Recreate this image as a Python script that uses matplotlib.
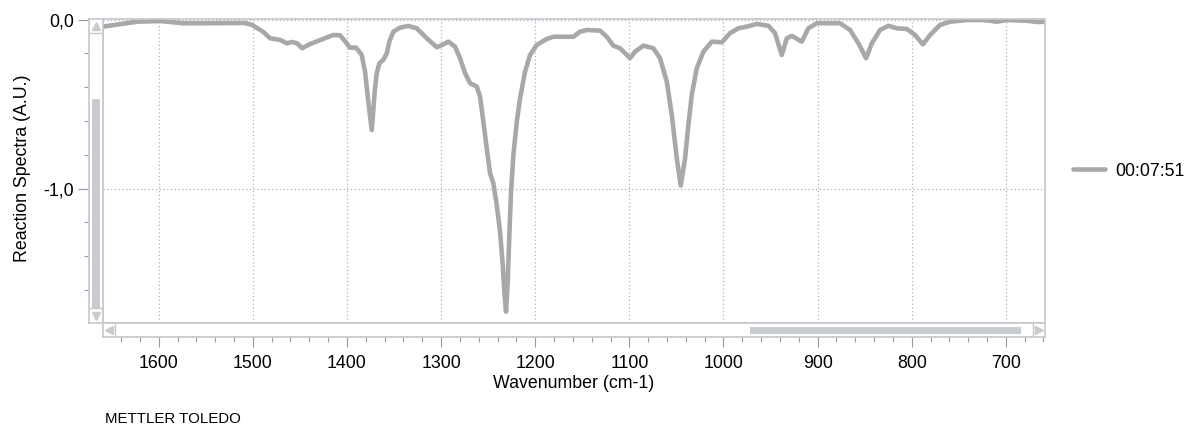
import matplotlib
matplotlib.use('Agg')
import matplotlib.pyplot as plt
from matplotlib.patches import Rectangle
from matplotlib.ticker import MultipleLocator, FixedLocator, FuncFormatter

plt.rcParams['font.family'] = ['Liberation Sans', 'DejaVu Sans']

# spectrum
wavenumber = [1659.2, 1623.0, 1598.6, 1574.2, 1508.3, 1500.9, 1489.2, 1481.7, 1471.1, 1463.7,
              1458.4, 1453.0, 1447.7, 1439.2, 1425.4, 1414.8, 1407.4, 1402.0, 1396.7, 1390.4,
              1384.3, 1380.8, 1377.3, 1373.7, 1370.2, 1368.4, 1365.6, 1361.4, 1357.7, 1355.0,
              1350.7, 1343.6, 1334.8, 1325.9, 1315.2, 1304.6, 1297.6, 1292.3, 1285.2, 1279.9,
              1274.5, 1269.2, 1262.1, 1258.6, 1255.1, 1251.5, 1248.0, 1244.5, 1240.9, 1237.4,
              1234.5, 1232.8, 1231.0, 1229.2, 1227.5, 1225.7, 1223.2, 1219.6, 1216.1, 1210.8,
              1205.5, 1198.4, 1187.7, 1180.7, 1159.5, 1152.4, 1145.2, 1131.1, 1124.0, 1116.9,
              1109.9, 1099.2, 1093.9, 1085.1, 1074.5, 1067.4, 1060.2, 1054.9, 1049.6, 1045.4,
              1040.8, 1037.3, 1033.7, 1028.4, 1021.3, 1012.4, 1001.8, 993.0, 984.2, 975.2,
              964.6, 952.3, 945.2, 938.1, 932.7, 927.4, 916.8, 909.8, 900.9, 876.1,
              865.5, 856.6, 848.5, 842.4, 833.6, 824.8, 815.8, 805.2, 796.4, 788.2,
              780.5, 769.9, 759.2, 741.5, 723.8, 709.6, 699.0, 677.8, 667.1, 658.4]
absorb = [-0.041, -0.012, -0.008, -0.021, -0.020, -0.031, -0.071, -0.110, -0.120, -0.140,
          -0.132, -0.140, -0.169, -0.144, -0.114, -0.091, -0.092, -0.128, -0.166, -0.165,
          -0.209, -0.308, -0.485, -0.653, -0.406, -0.317, -0.258, -0.238, -0.199, -0.130,
          -0.071, -0.047, -0.037, -0.051, -0.110, -0.163, -0.146, -0.130, -0.160, -0.228,
          -0.317, -0.376, -0.396, -0.456, -0.604, -0.761, -0.909, -0.968, -1.096, -1.254,
          -1.451, -1.609, -1.728, -1.550, -1.274, -1.018, -0.801, -0.604, -0.465, -0.308,
          -0.209, -0.150, -0.114, -0.101, -0.101, -0.071, -0.061, -0.065, -0.101, -0.154,
          -0.169, -0.228, -0.189, -0.154, -0.169, -0.228, -0.367, -0.564, -0.820, -0.982,
          -0.820, -0.623, -0.446, -0.288, -0.189, -0.130, -0.134, -0.080, -0.051, -0.041,
          -0.025, -0.036, -0.080, -0.209, -0.110, -0.096, -0.130, -0.051, -0.021, -0.021,
          -0.061, -0.140, -0.228, -0.140, -0.061, -0.036, -0.051, -0.055, -0.091, -0.146,
          -0.091, -0.031, -0.012, -0.002, -0.002, -0.012, -0.002, -0.006, -0.014, -0.012]
series_label = '00:07:51'
x_major = [1600, 1500, 1400, 1300, 1200, 1100, 1000, 900, 800, 700]
y_major = [0.0, -1.0]

W, H = 1187, 429
xlim = (1659.2, 658.4)
ylim = (-1.795, 0.004)
frame = '#c3c8cd'
thumb = '#c8ccd0'
grid_c = '#a9b1b8'
line_c = '#a8a8a8'
FS = 12.8


def rect(x0, y0, x1, y1):
    return [x0 / W, 1 - y1 / H, (x1 - x0) / W, (y1 - y0) / H]


fig = plt.figure(figsize=(W / 100, H / 100), dpi=100)

# data area
ax = fig.add_axes(rect(103, 19, 1045, 323))
ax.plot(wavenumber, absorb, color=line_c, lw=3.3, solid_joinstyle='round',
        solid_capstyle='round', label=series_label)
ax.set_xlim(*xlim)
ax.set_ylim(*ylim)
ax.xaxis.set_major_locator(FixedLocator(x_major))
ax.yaxis.set_major_locator(FixedLocator(y_major))
ax.tick_params(length=0, labelbottom=False, labelleft=False)
ax.grid(True, ls=(0, (1, 2)), color=grid_c, lw=0.9)
for s in ax.spines.values():
    s.set_color(frame)
    s.set_linewidth(1.2)

# horizontal scrollbar + x axis
axh = fig.add_axes(rect(103, 323, 1045, 337))
axh.set_xlim(*xlim)
axh.set_ylim(0, 1)
axh.xaxis.set_major_locator(FixedLocator(x_major))
axh.xaxis.set_minor_locator(MultipleLocator(20))
axh.set_yticks([])
axh.tick_params(axis='x', which='major', length=7, width=0.8, color='#9a9a9a',
                labelsize=FS, pad=6)
axh.tick_params(axis='x', which='minor', length=3.5, width=0.8, color='#9a9a9a')
for s in axh.spines.values():
    s.set_color(frame)
    s.set_linewidth(1.2)
axh.add_patch(Rectangle((0.687, 0.19), 0.288, 0.55, transform=axh.transAxes,
                        color=thumb, lw=0))
axh.plot([0.0127, 0.0127], [0, 1], transform=axh.transAxes, color=frame, lw=1)
axh.plot([0.987, 0.987], [0, 1], transform=axh.transAxes, color=frame, lw=1)
axh.plot([0.0065], [0.5], transform=axh.transAxes, marker='<', ms=6, color=thumb)
axh.plot([0.9935], [0.5], transform=axh.transAxes, marker='>', ms=6, color=thumb)

# vertical scrollbar + y axis
axv = fig.add_axes(rect(89, 19, 103, 323))
axv.set_ylim(*ylim)
axv.set_xlim(0, 1)
axv.set_xticks([])
axv.yaxis.set_major_locator(FixedLocator(y_major))
axv.yaxis.set_minor_locator(MultipleLocator(0.2))
axv.yaxis.set_major_formatter(FuncFormatter(lambda v, p: f'{v:.1f}'.replace('.', ',')))
axv.tick_params(axis='y', which='major', length=8, width=0.8, color='#9a9a9a',
                labelsize=FS, pad=3)
axv.tick_params(axis='y', which='minor', length=3.5, width=0.8, color='#9a9a9a')
for t in axv.yaxis.get_major_ticks():
    t.tick1line.set_linestyle((0, (1, 1.5)))
for s in axv.spines.values():
    s.set_color(frame)
    s.set_linewidth(1.2)
axv.add_patch(Rectangle((0.21, 0.05), 0.58, 0.687, transform=axv.transAxes,
                        color=thumb, lw=0))
axv.plot([0, 1], [0.954, 0.954], transform=axv.transAxes, color=frame, lw=1)
axv.plot([0, 1], [0.048, 0.048], transform=axv.transAxes, color=frame, lw=1)
axv.plot([0.5], [0.977], transform=axv.transAxes, marker='^', ms=6, color=thumb)
axv.plot([0.5], [0.024], transform=axv.transAxes, marker='v', ms=6, color=thumb)

fig.text(23 / W, 1 - 168 / H, 'Reaction Spectra (A.U.)', rotation=90,
         ha='center', va='center', fontsize=FS)
fig.text(574 / W, 1 - 383 / H, 'Wavenumber (cm-1)', ha='center', va='center', fontsize=FS)
fig.text(105 / W, 1 - 419 / H, 'METTLER TOLEDO', ha='left', va='center', fontsize=10.8)

ax.legend(loc='center left', bbox_to_anchor=(1073 / W, 1 - 171 / H),
          bbox_transform=fig.transFigure, frameon=False, borderpad=0,
          borderaxespad=0, handlelength=1.8, handletextpad=0.55, fontsize=FS)

fig.savefig('out.png', dpi=100)
